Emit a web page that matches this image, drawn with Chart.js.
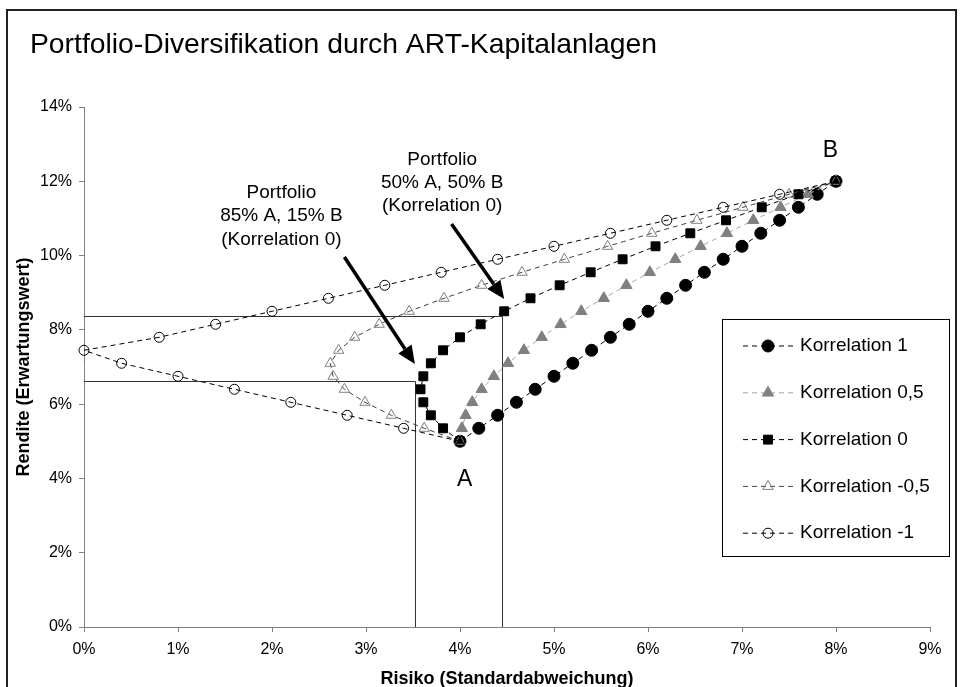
<!DOCTYPE html>
<html>
<head>
<meta charset="utf-8">
<title>Portfolio-Diversifikation</title>
<script src="https://cdn.jsdelivr.net/npm/chart.js"></script>
<style>
  html, body { margin: 0; padding: 0; background: #fff; }
</style>
</head>
<body>
<canvas id="portfolioChart" width="962" height="687"></canvas>
<script>
// Rendite je Portfolio (Anteil B von 0 % bis 100 % in 5er-Schritten)
var returns = [5.00, 5.35, 5.70, 6.05, 6.40, 6.75, 7.10, 7.45, 7.80, 8.15, 8.50,
               8.85, 9.20, 9.55, 9.90, 10.25, 10.60, 10.95, 11.30, 11.65, 12.00];

// Risiko je Korrelation
var riskCorr1   = [4.00, 4.20, 4.40, 4.60, 4.80, 5.00, 5.20, 5.40, 5.60, 5.80, 6.00,
                   6.20, 6.40, 6.60, 6.80, 7.00, 7.20, 7.40, 7.60, 7.80, 8.00];
var riskCorr05  = [4.00, 4.02, 4.06, 4.13, 4.23, 4.36, 4.51, 4.68, 4.87, 5.07, 5.29,
                   5.53, 5.77, 6.02, 6.29, 6.56, 6.84, 7.12, 7.41, 7.70, 8.00];
var riskCorr0   = [4.00, 3.82, 3.69, 3.61, 3.58, 3.61, 3.69, 3.82, 4.00, 4.22, 4.47,
                   4.75, 5.06, 5.39, 5.73, 6.08, 6.45, 6.83, 7.21, 7.60, 8.00];
var riskCorrM05 = [4.00, 3.62, 3.27, 2.99, 2.77, 2.65, 2.62, 2.71, 2.88, 3.14, 3.46,
                   3.83, 4.23, 4.66, 5.11, 5.57, 6.04, 6.52, 7.01, 7.50, 8.00];
var riskCorrM1  = [4.00, 3.40, 2.80, 2.20, 1.60, 1.00, 0.40, 0.00, 0.80, 1.40, 2.00,
                   2.60, 3.20, 3.80, 4.40, 5.00, 5.60, 6.20, 6.80, 7.40, 8.00];

var seriesNames = ['Korrelation 1', 'Korrelation 0,5', 'Korrelation 0', 'Korrelation -0,5', 'Korrelation -1'];
var riskTicks = [0, 1, 2, 3, 4, 5, 6, 7, 8, 9];
var returnTicks = [0, 2, 4, 6, 8, 10, 12, 14];

// Hilfslinien, Pfeile und Beschriftungen (in Achsenwerten)
var guideRisk = [3.52, 4.45];
var guideReturn = [6.62, 8.38];
var arrows = [[2.77, 9.96, 3.52, 7.08], [3.91, 10.85, 4.47, 8.83]];
var notes = [
  {at: [2.10, 11.69], lines: ['Portfolio', '85% A, 15% B', '(Korrelation 0)']},
  {at: [3.81, 12.59], lines: ['Portfolio', '50% A, 50% B', '(Korrelation 0)']}
];
var pointLabels = [{text: 'A', at: [4.05, 3.96]}, {text: 'B', at: [7.94, 12.82]}];

var FONT = '"Liberation Sans", Arial, sans-serif';
Chart.defaults.font.family = FONT;

function toPoints(risk) {
  return risk.map(function (x, i) { return {x: x, y: returns[i]}; });
}

function marker(ctx, ds, x, y) {
  ctx.fillStyle = ds.pointBackgroundColor;
  ctx.strokeStyle = ds.pointBorderColor;
  ctx.lineWidth = ds.pointBorderWidth;
  Chart.helpers.drawPoint(ctx, {pointStyle: ds.pointStyle, radius: ds.pointRadius, borderWidth: ds.pointBorderWidth, rotation: 0}, x, y);
}

var extras = {
  id: 'extras',
  beforeDraw: function (chart) {
    var ctx = chart.ctx;
    ctx.save();
    ctx.fillStyle = '#fff';
    ctx.fillRect(0, 0, chart.width, chart.height);
    ctx.strokeStyle = '#222';
    ctx.lineWidth = 2;
    ctx.strokeRect(7, 10, 949, 700);
    ctx.fillStyle = '#000';
    ctx.font = '28.3px ' + FONT;
    ctx.textBaseline = 'alphabetic';
    ctx.fillText('Portfolio-Diversifikation durch ART-Kapitalanlagen', 30, 53);
    ctx.restore();
  },
  beforeDatasetsDraw: function (chart) {
    var ctx = chart.ctx, xs = chart.scales.x, ys = chart.scales.y;
    ctx.save();
    ctx.strokeStyle = '#333';
    ctx.lineWidth = 1;
    guideRisk.forEach(function (r, i) {
      var px = Math.round(xs.getPixelForValue(r)) + 0.5;
      var py = Math.round(ys.getPixelForValue(guideReturn[i])) + 0.5;
      ctx.beginPath();
      ctx.moveTo(xs.getPixelForValue(0), py);
      ctx.lineTo(px, py);
      ctx.lineTo(px, ys.getPixelForValue(0));
      ctx.stroke();
    });
    ctx.restore();
  },
  afterDatasetsDraw: function (chart) {
    var ctx = chart.ctx, xs = chart.scales.x, ys = chart.scales.y;
    ctx.save();

    // Pfeile
    arrows.forEach(function (a) {
      var x1 = xs.getPixelForValue(a[0]), y1 = ys.getPixelForValue(a[1]);
      var x2 = xs.getPixelForValue(a[2]), y2 = ys.getPixelForValue(a[3]);
      var ang = Math.atan2(y2 - y1, x2 - x1), len = 18, half = 8;
      var bx = x2 - Math.cos(ang) * len, by = y2 - Math.sin(ang) * len;
      ctx.strokeStyle = '#000';
      ctx.lineWidth = 3.5;
      ctx.beginPath();
      ctx.moveTo(x1, y1);
      ctx.lineTo(bx, by);
      ctx.stroke();
      ctx.fillStyle = '#000';
      ctx.beginPath();
      ctx.moveTo(x2, y2);
      ctx.lineTo(bx + Math.sin(ang) * half, by - Math.cos(ang) * half);
      ctx.lineTo(bx - Math.sin(ang) * half, by + Math.cos(ang) * half);
      ctx.closePath();
      ctx.fill();
    });

    ctx.fillStyle = '#000';
    ctx.textAlign = 'center';
    ctx.textBaseline = 'middle';
    ctx.font = '19px ' + FONT;
    notes.forEach(function (n) {
      var x = xs.getPixelForValue(n.at[0]), y = ys.getPixelForValue(n.at[1]);
      n.lines.forEach(function (t, i) { ctx.fillText(t, x, y + i * 23.3); });
    });
    ctx.font = '23px ' + FONT;
    pointLabels.forEach(function (l) {
      ctx.fillText(l.text, xs.getPixelForValue(l.at[0]), ys.getPixelForValue(l.at[1]));
    });

    // Legende
    ctx.strokeStyle = '#000';
    ctx.lineWidth = 1;
    ctx.strokeRect(722.5, 319.5, 227, 237);
    ctx.textAlign = 'left';
    ctx.font = '19px ' + FONT;
    chart.data.datasets.forEach(function (ds, i) {
      var y = 346 + i * 46.8;
      ctx.strokeStyle = ds.borderColor;
      ctx.lineWidth = 1;
      ctx.setLineDash(ds.borderDash);
      ctx.beginPath();
      ctx.moveTo(743, y);
      ctx.lineTo(797, y);
      ctx.stroke();
      ctx.setLineDash([]);
      marker(ctx, ds, 768, y);
      ctx.fillStyle = '#000';
      ctx.fillText(seriesNames[i], 800, y);
    });
    ctx.restore();
  }
};

var common = {showLine: true, borderWidth: 1, borderDash: [5, 4], pointBorderWidth: 1, fill: false, tension: 0, clip: false};

var ctxPortfolio = document.getElementById('portfolioChart').getContext('2d');
var portfolioChart = new Chart(ctxPortfolio, {
  type: 'scatter',
  data: {
    datasets: [
      Object.assign({label: seriesNames[0], data: toPoints(riskCorr1), borderColor: '#000',
        pointStyle: 'circle', pointRadius: 6, pointBackgroundColor: '#000', pointBorderColor: '#000', order: 5}, common),
      Object.assign({label: seriesNames[1], data: toPoints(riskCorr05), borderColor: '#a6a6a6',
        pointStyle: 'triangle', pointRadius: 6.5, pointBackgroundColor: '#808080', pointBorderColor: '#808080', order: 4}, common),
      Object.assign({label: seriesNames[2], data: toPoints(riskCorr0), borderColor: '#000',
        pointStyle: 'rect', pointRadius: 6.3, pointBackgroundColor: '#000', pointBorderColor: '#000', order: 3}, common),
      Object.assign({label: seriesNames[3], data: toPoints(riskCorrM05), borderColor: '#404040',
        pointStyle: 'triangle', pointRadius: 6, pointBackgroundColor: 'rgba(255,255,255,0)', pointBorderColor: '#808080', order: 2}, common),
      Object.assign({label: seriesNames[4], data: toPoints(riskCorrM1), borderColor: '#000',
        pointStyle: 'circle', pointRadius: 5, pointBackgroundColor: 'rgba(255,255,255,0)', pointBorderColor: '#000', order: 1}, common)
    ]
  },
  options: {
    responsive: false,
    animation: false,
    events: [],
    layout: {padding: {top: 107, right: 32, bottom: 0, left: 0}},
    plugins: {
      legend: {display: false},
      tooltip: {enabled: false}
    },
    scales: {
      x: {
        type: 'linear', position: 'bottom', min: 0, max: 9,
        afterBuildTicks: function (s) { s.ticks = riskTicks.map(function (v) { return {value: v}; }); },
        afterFit: function (s) { s.height = 60; },
        ticks: {callback: function (v) { return v + '%'; }, color: '#000', font: {size: 16}, padding: 8, maxRotation: 0, autoSkip: false},
        grid: {drawOnChartArea: false, tickLength: 5, color: '#808080'},
        border: {color: '#808080'},
        title: {display: true, text: 'Risiko (Standardabweichung)', color: '#000',
          font: {size: 18, weight: 'bold', lineHeight: 1}, padding: {top: 0, bottom: -1}}
      },
      y: {
        type: 'linear', position: 'left', min: 0, max: 14,
        afterBuildTicks: function (s) { s.ticks = returnTicks.map(function (v) { return {value: v}; }); },
        afterFit: function (s) { s.width = 84; },
        ticks: {callback: function (v) { return v + '%'; }, color: '#000', font: {size: 16}, padding: 7},
        grid: {drawOnChartArea: false, tickLength: 5, color: '#808080'},
        border: {color: '#808080'},
        title: {display: true, text: 'Rendite (Erwartungswert)', color: '#000',
          font: {size: 18, weight: 'bold', lineHeight: 1}, padding: {top: 15, bottom: 0}}
      }
    }
  },
  plugins: [extras]
});
</script>
</body>
</html>
